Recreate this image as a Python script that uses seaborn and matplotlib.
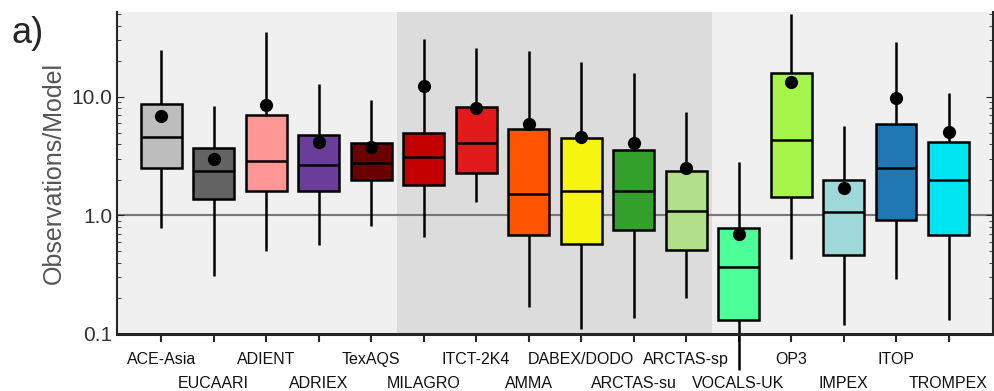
import matplotlib
matplotlib.use("Agg")
import matplotlib.pyplot as plt
import numpy as np
import pandas as pd
import seaborn as sns

# campaign summary stats (ratio observations/model)
campaigns = ["ACE-Asia", "EUCAARI", "ADIENT", "ADRIEX", "TexAQS", "MILAGRO",
             "ITCT-2K4", "AMMA", "DABEX/DODO", "ARCTAS-su", "ARCTAS-sp",
             "VOCALS-UK", "OP3", "IMPEX", "ITOP", "TROMPEX"]
whisker_low = [0.78, 0.31, 0.50, 0.56, 0.82, 0.66, 1.29, 0.17, 0.11, 0.137,
               0.20, 0.05, 0.43, 0.12, 0.29, 0.13]
q1 = [2.5, 1.37, 1.6, 1.6, 1.98, 1.8, 2.3, 0.68, 0.57, 0.76,
      0.515, 0.13, 1.42, 0.46, 0.92, 0.68]
median = [4.6, 2.36, 2.9, 2.65, 2.76, 3.1, 4.07, 1.53, 1.6, 1.6,
          1.1, 0.37, 4.3, 1.06, 2.5, 1.98]
q3 = [8.7, 3.7, 7.0, 4.8, 4.07, 5.0, 8.2, 5.4, 4.5, 3.6,
      2.36, 0.79, 16.0, 2.0, 5.9, 4.2]
whisker_high = [25.0, 8.4, 35.0, 12.9, 9.4, 31.0, 26.0, 24.6, 19.8, 16.0,
                7.5, 2.8, 50.0, 5.7, 29.0, 10.8]
mean = [6.9, 3.0, 8.5, 4.15, 3.77, 12.4, 8.05, 5.9, 4.6, 4.07,
        2.5, 0.70, 13.4, 1.7, 9.8, 5.1]

colors = ["#bdbdbd", "#636363", "#ff9797", "#6a3d9a", "#6b0000", "#c40000",
          "#e31a1c", "#ff5500", "#f5f510", "#33a02c", "#b2df8a", "#4dff99",
          "#a6f54a", "#9ed8d8", "#1f78b4", "#00e5f2"]

# five points per campaign -> percentiles 0/25/50/75/100 hit them exactly
rows = []
for i, name in enumerate(campaigns):
    for v in (whisker_low[i], q1[i], median[i], q3[i], whisker_high[i]):
        rows.append({"campaign": name, "ratio": v})
df = pd.DataFrame(rows)

sns.set_style("ticks")
plt.rcParams["font.family"] = ["Liberation Sans", "DejaVu Sans"]

fig = plt.figure(figsize=(9.95, 3.91), dpi=100)
ax = fig.add_axes([0.1176, 0.146, 0.880, 0.823])
ax.set_facecolor("#f0f0f0")

sns.boxplot(data=df, x="campaign", y="ratio", hue="campaign", palette=colors,
            legend=False, whis=(0, 100), width=0.78, showcaps=False,
            saturation=1, linecolor="black", linewidth=1.8,
            log_scale=(False, True), ax=ax)

for line in ax.lines:
    line.set_clip_on(False)

sns.stripplot(x=campaigns, y=mean, color="black", jitter=False, size=9.5,
              zorder=6, ax=ax)

ax.axvspan(4.5, 10.5, color="#dcdcdc", zorder=0, lw=0)
ax.axhline(1.0, color="#777777", lw=1.5, zorder=0.5)

ax.set_xlim(-0.84, 15.84)
ax.set_ylim(0.1, 52)
ax.set_yticks([0.1, 1.0, 10.0])
ax.set_yticklabels(["0.1", "1.0", "10.0"], fontsize=15, color="#333333")
ax.set_xticks(range(len(campaigns)))
ax.set_xticklabels(campaigns, fontsize=11.5, color="#111111")
ax.tick_params(axis="y", which="both", direction="in", right=True, length=5)
ax.tick_params(axis="y", which="minor", length=3)
ax.tick_params(axis="x", direction="out", length=6, width=1.5, pad=7)
# staggered labels: every second one on a lower row
for t in ax.xaxis.get_major_ticks()[1::2]:
    t.set_pad(24)

ax.set_xlabel("")
ax.set_ylabel("Observations/Model", fontsize=18, color="#555555")
ax.spines["top"].set_visible(False)
ax.spines["bottom"].set_linewidth(2.2)
ax.spines["left"].set_linewidth(1.5)
ax.spines["right"].set_linewidth(1.5)

fig.text(0.012, 0.89, "a)", fontsize=26)

fig.savefig("out.png", dpi=100)
